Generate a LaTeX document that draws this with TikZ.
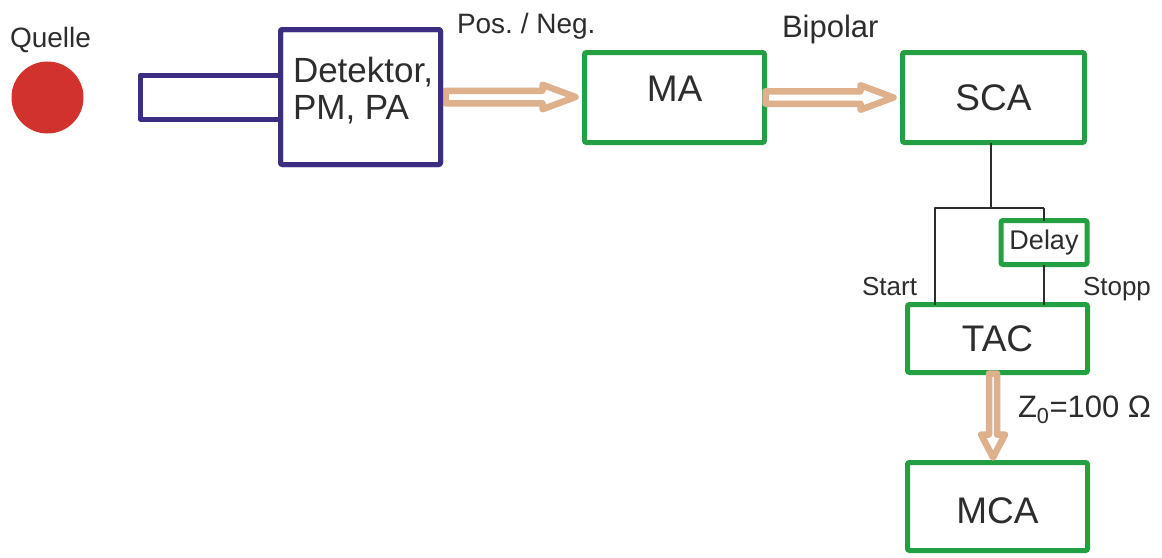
\documentclass[tikz,border=0pt]{standalone}
\usepackage{fontspec}
\setmainfont{Liberation Sans}
\usetikzlibrary{calc}
\definecolor{grn}{RGB}{35,160,65}
\definecolor{pur}{RGB}{60,45,130}
\definecolor{arrtan}{RGB}{222,176,140}
\definecolor{srcred}{RGB}{210,50,45}
\definecolor{txt}{RGB}{45,45,45}
\frenchspacing
\begin{document}
\begin{tikzpicture}[x=1pt,y=-1pt,
  every node/.style={text=txt, outer sep=0pt},
  gbox/.style={draw=grn, line width=5pt, rounded corners=2pt, inner sep=0pt, font=\fontsize{37}{44}\selectfont},
  pbox/.style={draw=pur, line width=5pt, rounded corners=2pt, inner sep=0pt},
  hollow/.style={draw=arrtan, line width=6.5pt, line join=round, fill=white},
  wire/.style={draw=txt, line width=2.5pt},
  lbl/.style={inner sep=0pt, anchor=base west}]
\useasboundingbox (0,0) rectangle (1162,557);

% source
\node[lbl, font=\fontsize{28}{34}\selectfont] (quelle) at (10,47) {Quelle};
\node[circle, fill=srcred, minimum size=72pt, inner sep=0pt] (src) at (47.5,97.5) {};

% detector
\node[pbox, minimum width=160pt, minimum height=135pt] (det) at (360.5,97) {};
\draw[pur, line width=5pt, line join=round] ([yshift=22pt]det.west) -- ++(-140,0) -- ++(0,44) -- ++(140,0);
\node[inner sep=0pt, anchor=north west, align=left, font=\fontsize{35}{37}\selectfont] (dettext) at (293,57) {Detektor,\\PM, PA};

% boxes
\node[gbox, minimum width=180pt, minimum height=90pt, text depth=17pt] (ma) at (674.5,97.5) {MA};
\node[gbox, minimum width=182pt, minimum height=90pt] (sca) at (993.5,97.5) {SCA};
\node[gbox, minimum width=86pt, minimum height=44pt, font=\fontsize{27}{32}\selectfont] (delay) at (1044,242.5) {Delay};
\node[gbox, minimum width=180pt, minimum height=68pt] (tac) at (997.5,338.5) {TAC};
\node[gbox, minimum width=180pt, minimum height=88pt, text height=34.5pt] (mca) at (997.5,506.5) {MCA};

% labels
\node[lbl, font=\fontsize{28}{34}\selectfont] (posneg) at (457,33) {Pos. / Neg.};
\node[lbl, font=\fontsize{31}{36}\selectfont] (bipolar) at (782,37) {Bipolar};
\node[inner sep=0pt, anchor=base east, font=\fontsize{26}{31}\selectfont] (start) at (917,295) {Start};
\node[lbl, font=\fontsize{26}{31}\selectfont] (stopp) at (1083,295) {Stopp};
\node[lbl, font=\fontsize{31}{36}\selectfont] (zlabel) at (1018,417) {Z\textsubscript{0}=100 Ω};

% hollow arrows
\draw[hollow] let \p1=(det.east), \p2=(ma.west) in
  (\x1+5pt,\y1+6.25pt) -- (\x2-42pt,\y1+6.25pt) -- (\x2-42pt,\y1+12.25pt) -- (\x2-9pt,\y1) --
  (\x2-42pt,\y1-12.25pt) -- (\x2-42pt,\y1-6.25pt) -- (\x1+5pt,\y1-6.25pt) -- cycle;
\draw[hollow] let \p1=(ma.east), \p2=(sca.west) in
  (\x1+1pt,\y1+6.25pt) -- (\x2-42pt,\y1+6.25pt) -- (\x2-42pt,\y1+12.25pt) -- (\x2-9pt,\y1) --
  (\x2-42pt,\y1-12.25pt) -- (\x2-42pt,\y1-6.25pt) -- (\x1+1pt,\y1-6.25pt) -- cycle;
\draw[hollow] let \p1=(tac.south), \p2=(mca.north) in
  (\x1-8.5pt,\y1-1pt) -- (\x1-8.5pt,\y2+28pt) -- (\x1-16.5pt,\y2+28pt) -- (\x1-4.5pt,\y2+5pt) --
  (\x1+7.5pt,\y2+28pt) -- (\x1-0.5pt,\y2+28pt) -- (\x1-0.5pt,\y1-1pt) -- cycle;

% redraw box borders over arrow ends
\node[pbox, minimum width=160pt, minimum height=135pt] at (det) {};

% wires
\coordinate (split) at (991,208);
\coordinate (stl) at (935,208);
\coordinate (spr) at (delay.north |- split);
\draw[wire] (split |- sca.south) -- (split);
\draw[wire, line join=round] (spr) -- (stl) -- (stl |- tac.north);
\draw[wire] (spr) -- (delay.north);
\draw[wire] (delay.south) -- (delay.south |- tac.north);
\end{tikzpicture}
\end{document}
